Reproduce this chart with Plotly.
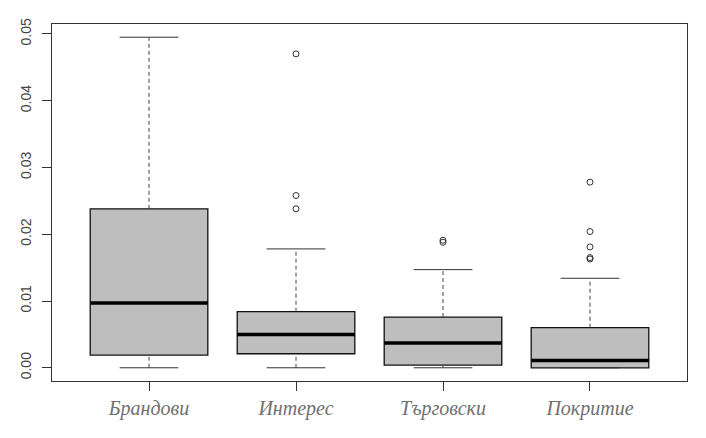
import plotly.graph_objects as go

categories = ["Брандови", "Интерес", "Търговски", "Покритие"]
positions = [1, 2, 3, 4]
q1 = [0.0019, 0.0021, 0.0004, 0.0000]
median = [0.0097, 0.0050, 0.0037, 0.0011]
q3 = [0.0238, 0.0084, 0.0076, 0.0060]
lower_whisker = [0.0000, 0.0000, 0.0000, 0.0000]
upper_whisker = [0.0495, 0.0178, 0.0147, 0.0134]
outliers = [
    [],
    [0.0470, 0.0258, 0.0238],
    [0.0191, 0.0188],
    [0.0278, 0.0204, 0.0181, 0.0165, 0.0163],
]
y_ticks = [0.00, 0.01, 0.02, 0.03, 0.04, 0.05]

BOX_W = 0.8
CAP_W = 0.4

fig = go.Figure()

for i, p in enumerate(positions):
    # whiskers (dashed)
    fig.add_trace(go.Scatter(
        x=[p, p, None, p, p], y=[lower_whisker[i], q1[i], None, q3[i], upper_whisker[i]],
        mode="lines", line=dict(color="#444444", width=1, dash="4px,3px"),
        hoverinfo="skip", showlegend=False))
    # caps (solid)
    fig.add_trace(go.Scatter(
        x=[p - CAP_W / 2, p + CAP_W / 2, None, p - CAP_W / 2, p + CAP_W / 2],
        y=[lower_whisker[i], lower_whisker[i], None, upper_whisker[i], upper_whisker[i]],
        mode="lines", line=dict(color="#333333", width=1),
        hoverinfo="skip", showlegend=False))
    # box
    fig.add_trace(go.Box(
        x=[p], q1=[q1[i]], median=[median[i]], q3=[q3[i]],
        lowerfence=[q1[i]], upperfence=[q3[i]],
        width=BOX_W, whiskerwidth=0, fillcolor="#bebebe",
        line=dict(color="#111111", width=1.3), boxpoints=False,
        showlegend=False, hoverinfo="skip"))
    # thick median
    fig.add_trace(go.Scatter(
        x=[p - BOX_W / 2, p + BOX_W / 2], y=[median[i], median[i]],
        mode="lines", line=dict(color="#000000", width=3.5),
        hoverinfo="skip", showlegend=False))
    # outliers
    if outliers[i]:
        fig.add_trace(go.Scatter(
            x=[p] * len(outliers[i]), y=outliers[i], mode="markers",
            marker=dict(symbol="circle-open", size=6, color="#333333", line=dict(width=1)),
            hoverinfo="skip", showlegend=False))

fig.update_layout(
    width=698, height=430,
    margin=dict(l=44, r=19, t=10, b=57),
    paper_bgcolor="white", plot_bgcolor="white",
    xaxis=dict(
        range=[0.34, 4.66], tickmode="array", tickvals=positions, ticktext=categories,
        showgrid=False, zeroline=False, showline=True, mirror=True,
        linecolor="#333333", linewidth=1, ticks="outside", ticklen=9,
        tickcolor="#333333",
        tickfont=dict(family="Liberation Serif", size=20, color="#707070", style="italic"),
    ),
    yaxis=dict(
        range=[-0.00198, 0.05148], tickmode="array", tickvals=y_ticks,
        ticktext=[f"{v:.2f}" for v in y_ticks],
        showgrid=False, zeroline=False, showline=True, mirror=True,
        linecolor="#333333", linewidth=1, ticks="outside", ticklen=9,
        tickcolor="#333333", tickangle=-90, ticklabelstandoff=5,
        tickfont=dict(family="Liberation Sans", size=14, color="#444444"),
    ),
)

fig.write_html("out.html")
